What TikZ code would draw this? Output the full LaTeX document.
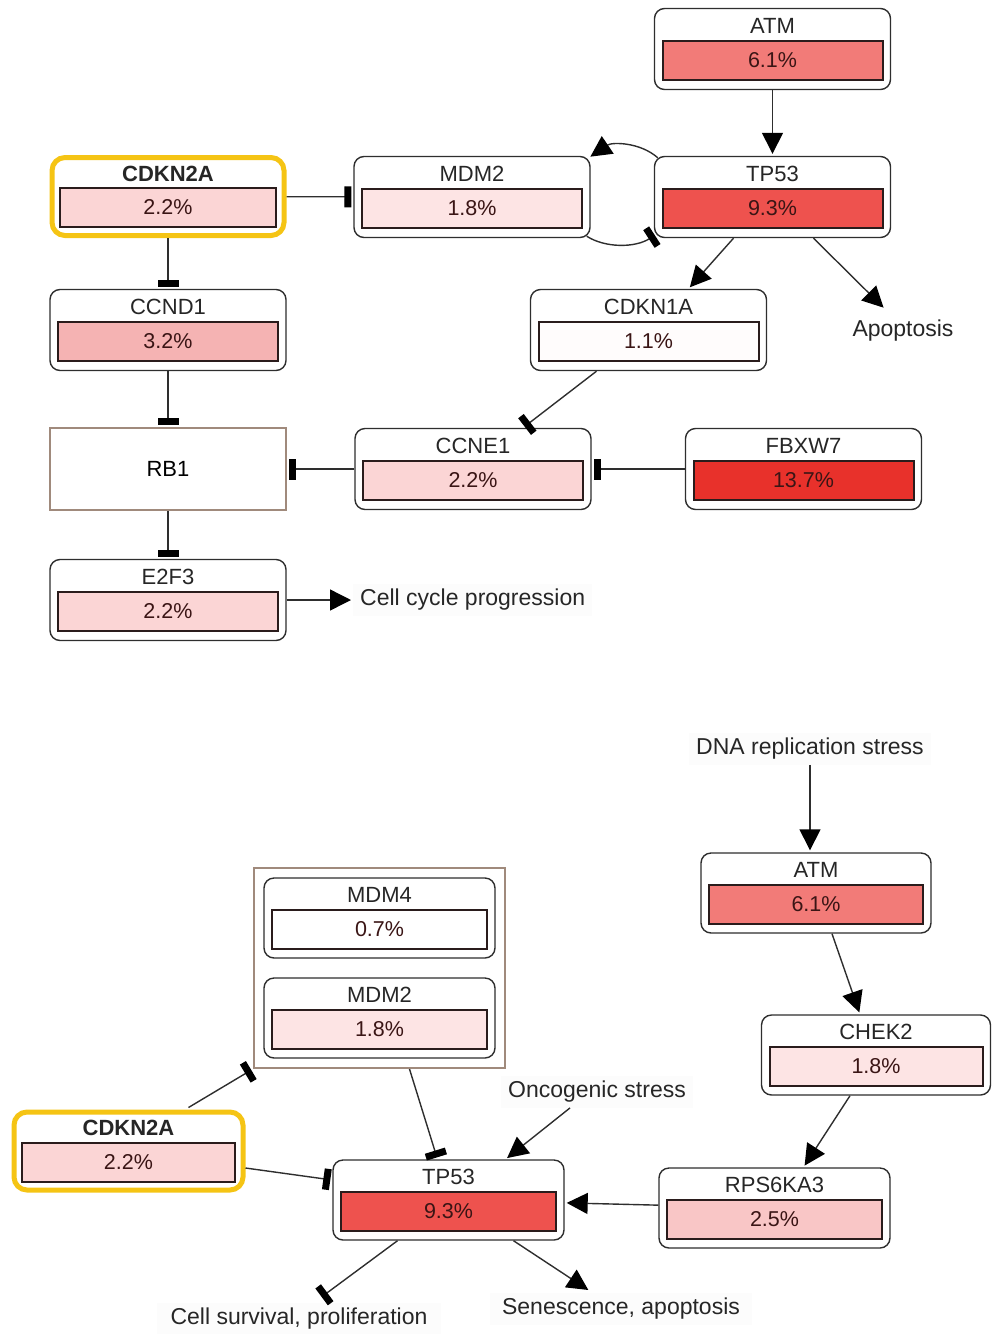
\documentclass[tikz,border=0pt]{standalone}
\usepackage{fontspec}
\setmainfont{Liberation Sans}
\usetikzlibrary{arrows.meta,calc}

% palette
\definecolor{edge}{HTML}{2E2E2E}
\definecolor{barline}{HTML}{2A1C1C}
\definecolor{pcttext}{HTML}{3A1515}
\definecolor{gold}{HTML}{F5C414}
\definecolor{groupline}{HTML}{A08A7C}
\definecolor{haze}{HTML}{FCFCFC}
\definecolor{cA}{HTML}{F27B78}  % 6.1%
\definecolor{cB}{HTML}{EE524E}  % 9.3%
\definecolor{cC}{HTML}{E8312B}  % 13.7%
\definecolor{cD}{HTML}{FBD5D5}  % 2.2%
\definecolor{cE}{HTML}{FDE4E4}  % 1.8%
\definecolor{cF}{HTML}{F5B3B3}  % 3.2%
\definecolor{cG}{HTML}{F9C6C6}  % 2.5%
\definecolor{cH}{HTML}{FFFCFC}  % 1.1%
\definecolor{cI}{HTML}{FFFFFF}  % 0.7%

\newcommand\genetxt{\fontsize{22}{26}\selectfont}
\newcommand\pcttxt{\fontsize{21.5}{26}\selectfont}
\newcommand\freetxt{\fontsize{23}{27}\selectfont}

\tikzset{
  genebox/.style={draw=edge, line width=1.4pt, rounded corners=10pt, fill=white,
    minimum width=#1, minimum height=81pt, inner sep=0pt},
  hotbox/.style={draw=gold, line width=5pt, rounded corners=13pt, minimum height=78pt},
  barbox/.style={draw=barline, line width=2pt, minimum width=#1-16pt,
    minimum height=39pt, inner sep=0pt, text=pcttext, font=\pcttxt},
  genelabel/.style={inner sep=0pt, font=\genetxt, text=black!85},
  groupbox/.style={draw=groupline, line width=2pt, inner sep=0pt},
  freetext/.style={font=\freetxt, text=black!85, inner xsep=7pt, inner ysep=5pt},
  hazetext/.style={freetext, fill=haze},
  act/.style={draw=edge, line width=1.4pt,
    -{Triangle[length=21pt,width=21pt,color=black]}, shorten >=2pt},
  inh/.style={draw=edge, line width=1.4pt,
    -{Rectangle[length=7pt,width=21pt,color=black]}, shorten >=2pt},
}

% #1 name, #2 centre, #3 width, #4 gene, #5 share, #6 bar colour, #7 extra box style
\newcommand\genenode[7]{%
  \node[genebox={#3},#7] (#1) at #2 {};
  \node[barbox={#3}, fill=#6] (#1-bar) at ([yshift=-11pt]#1.center) {#5};
  \node[genelabel] (#1-lbl) at ([yshift=23pt]#1.center) {#4};
}

\begin{document}
\begin{tikzpicture}[x=1pt,y=-1pt]
\useasboundingbox (0,0) rectangle (992,1334);

% ---------------- upper pathway ----------------
\genenode{atmA}{(772.5,49)}{236pt}{ATM}{6.1\%}{cA}{}
\genenode{tpA}{(772.5,197)}{236pt}{TP53}{9.3\%}{cB}{}
\genenode{mdmA}{(472,197)}{236pt}{MDM2}{1.8\%}{cE}{}
\genenode{cdkA}{(168,196.5)}{232pt}{\bfseries CDKN2A}{2.2\%}{cD}{hotbox}
\genenode{ccnd}{(168,330)}{236pt}{CCND1}{3.2\%}{cF}{}
\genenode{cdkOne}{(648.5,330)}{236pt}{CDKN1A}{1.1\%}{cH}{}
\node[groupbox, minimum width=236pt, minimum height=82pt, font=\genetxt] (rb) at (168,469) {RB1};
\genenode{ccne}{(473,469)}{236pt}{CCNE1}{2.2\%}{cD}{}
\genenode{fbx}{(803.5,469)}{236pt}{FBXW7}{13.7\%}{cC}{}
\genenode{efs}{(168,600)}{236pt}{E2F3}{2.2\%}{cD}{}

\node[freetext] (apop) at (903,331) {Apoptosis};
\node[hazetext, anchor=west] (ccp) at (353,600) {Cell cycle progression};

\draw[act] (atmA) -- (tpA);
\draw[inh] (cdkA) -- (mdmA);
\draw[act] ([xshift=4pt,yshift=-2pt]tpA.north west)
  .. controls (640,142) and (612,142) .. ([xshift=-2pt,yshift=-2pt]mdmA.north east);
\draw[inh, shorten >=0pt] ([xshift=-4pt,yshift=2pt]mdmA.south east)
  .. controls (605,248) and (635,248) .. ([xshift=1pt,yshift=3pt]tpA.south west);
\draw[act] ([xshift=-39pt]tpA.south) -- ([xshift=40pt]cdkOne.north);
\draw[act] ([xshift=41pt]tpA.south) -- ([xshift=-18pt,yshift=6pt]apop.north);
\draw[inh] (cdkA) -- (ccnd);
\draw[inh] (ccnd) -- (rb);
\draw[inh] ([xshift=-52pt]cdkOne.south) -- ([xshift=50pt]ccne.north);
\draw[inh] (ccne) -- (rb);
\draw[inh] (fbx) -- (ccne);
\draw[inh] (rb) -- (efs);
\draw[act] (efs) -- (ccp);

% ---------------- lower pathway ----------------
\node[hazetext] (dna) at (810,749) {DNA replication stress};
\genenode{atmB}{(816,893)}{230pt}{ATM}{6.1\%}{cA}{minimum height=80pt}
\genenode{chk}{(876,1055)}{229pt}{CHEK2}{1.8\%}{cE}{minimum height=80pt}
\genenode{rps}{(774.5,1208)}{231pt}{RPS6KA3}{2.5\%}{cG}{minimum height=80pt}
\genenode{tpB}{(448.5,1200)}{231pt}{TP53}{9.3\%}{cB}{minimum height=80pt}
\genenode{cdkB}{(128.5,1151)}{229pt}{\bfseries CDKN2A}{2.2\%}{cD}{hotbox}

\node[groupbox, minimum width=251pt, minimum height=200pt] (grp) at (379.5,968) {};
\genenode{mdmFour}{(379.5,918)}{231pt}{MDM4}{0.7\%}{cI}{minimum height=80pt}
\genenode{mdmB}{(379.5,1018)}{231pt}{MDM2}{1.8\%}{cE}{minimum height=80pt}

\node[hazetext] (onc) at (597,1092) {Oncogenic stress};
\node[hazetext, inner xsep=12pt] (sen) at (621,1309) {Senescence, apoptosis};
\node[hazetext, inner xsep=14pt] (cs) at (299,1319) {Cell survival, proliferation};

\draw[act] (dna.south) -- (dna.south |- atmB.north);
\draw[act] ([xshift=16pt]atmB.south) -- ([xshift=-16pt]chk.north);
\draw[act] ([xshift=-26pt]chk.south) -- ([xshift=29pt]rps.north);
\draw[act] (rps) -- (tpB);
\draw[act] ([xshift=-27pt]onc.south) -- ([xshift=57pt]tpB.north);
\draw[act] ([xshift=65pt]tpB.south) -- ([xshift=-31pt,yshift=2pt]sen.north);
\draw[inh] ([xshift=-51pt]tpB.south) -- ([xshift=21pt,yshift=5pt]cs.north);
\draw[inh] ([yshift=-17pt]cdkB.east) -- ([yshift=20pt]tpB.west);
\draw[inh] ([xshift=60pt,yshift=2pt]cdkB.north) -- (grp.south west);
\draw[inh] ([xshift=30pt]grp.south) -- ([xshift=-11pt]tpB.north);

\end{tikzpicture}
\end{document}
